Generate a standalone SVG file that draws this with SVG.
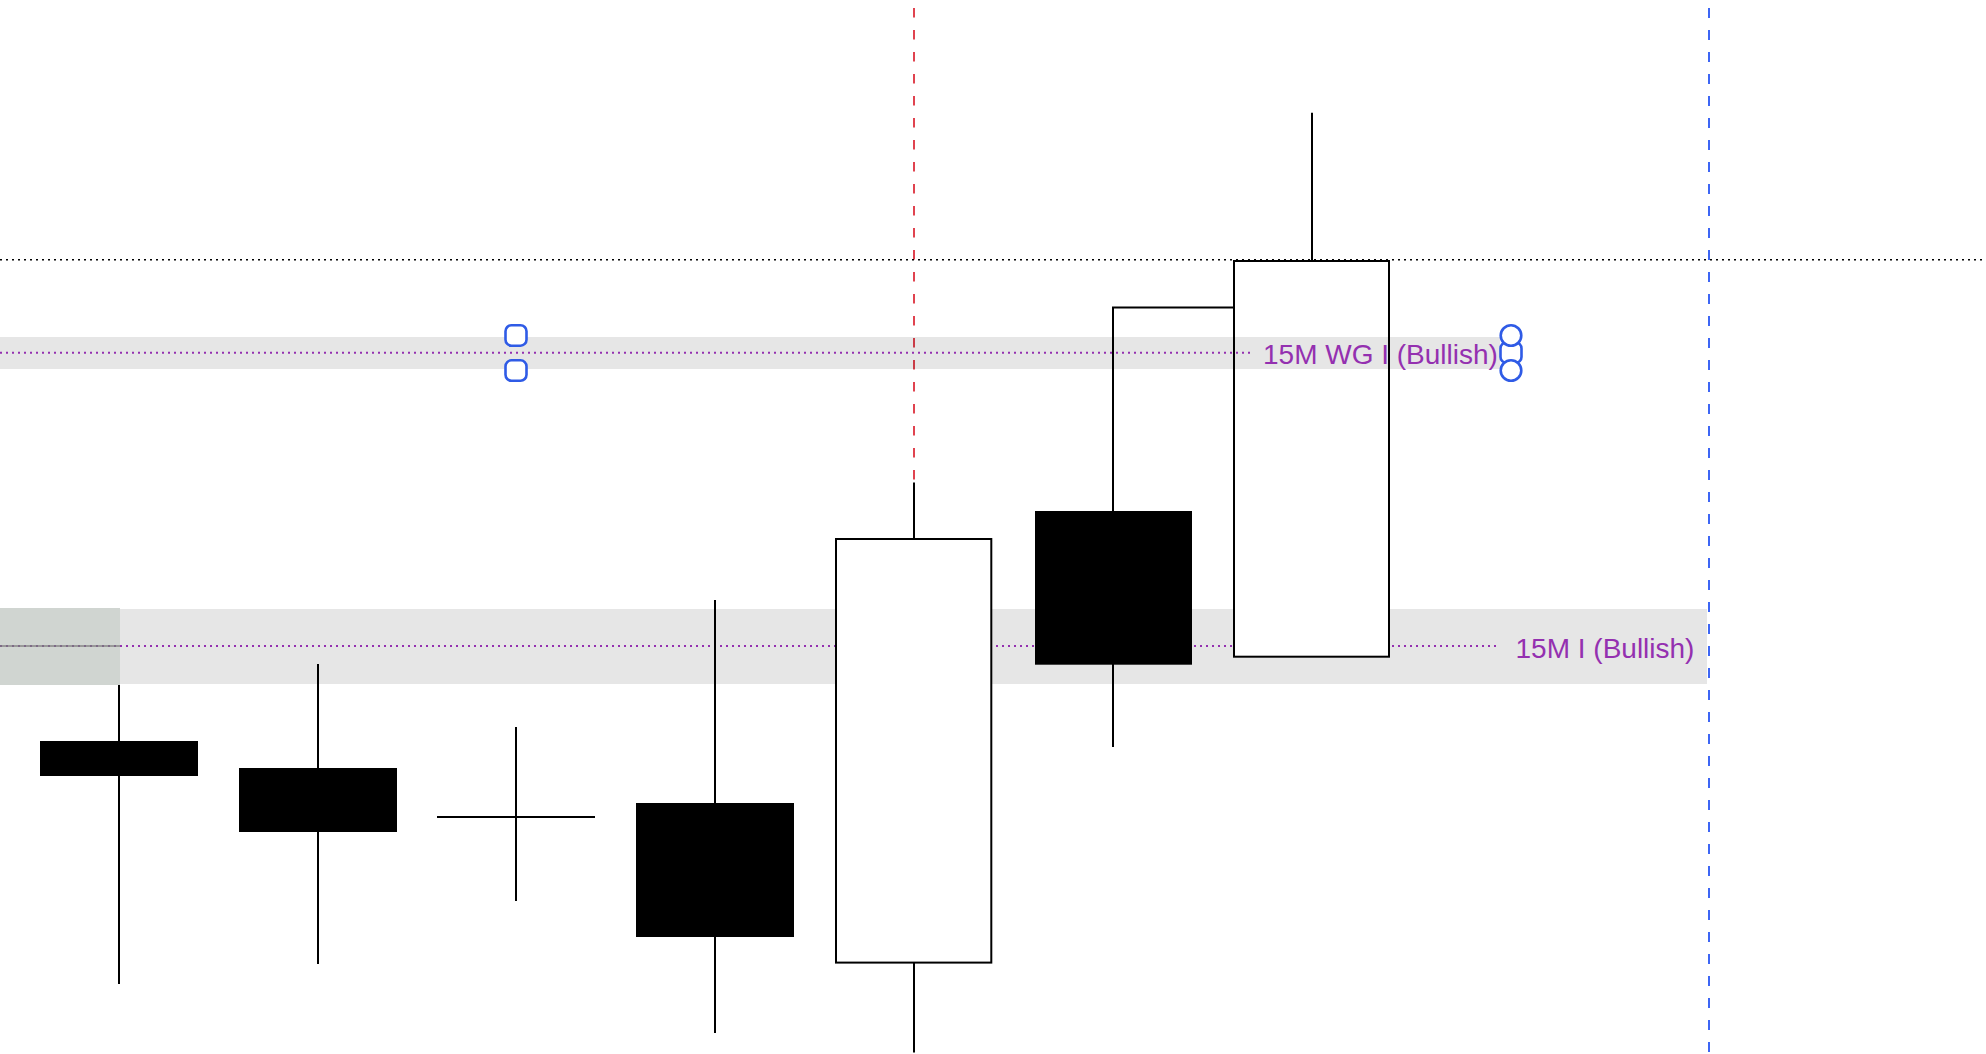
<svg xmlns="http://www.w3.org/2000/svg" width="1986" height="1054" viewBox="0 0 1986 1054">
<style>
.band{fill:#e6e6e6}
.bandT{fill:#000;fill-opacity:0.098}
.pdot{stroke:#9430b0;stroke-width:2;stroke-dasharray:2 4;fill:none}
.wick{stroke:#000;stroke-width:2;fill:none}
.bear{fill:#000}
.bull{fill:#fff;stroke:#000;stroke-width:2}
.lbl{font-family:"Liberation Sans",Arial,sans-serif;font-size:28px;fill:#9430b0}
.handle{fill:#fff;stroke:#2f5be6;stroke-width:2.6}
</style>
<rect width="1986" height="1054" fill="#fff"/>
<g id="vlines">
<line x1="914" y1="8" x2="914" y2="1054" stroke="#e0434f" stroke-width="2" stroke-dasharray="9.5 12.5"/>
<line x1="1709" y1="8" x2="1709" y2="1054" stroke="#3d66f5" stroke-width="2" stroke-dasharray="10 12"/>
</g>
<g id="zone-lower">
<rect class="band" x="0" y="609" width="1707" height="75"/>
<rect x="0" y="608" width="120" height="77" fill="#d0d5d1"/>
<line x1="0" y1="646" x2="120" y2="646" stroke="#999" stroke-width="2"/>
<line x1="0" y1="646" x2="120" y2="646" stroke="#7d6a86" stroke-width="2" stroke-dasharray="2 4"/>
<line class="pdot" x1="120" y1="646" x2="1498" y2="646"/>
</g>
<g id="level-line">
<line x1="0" y1="259.7" x2="1986" y2="259.7" stroke="#000" stroke-width="1.6" stroke-dasharray="2 4"/>
</g>
<g id="candles">
<g id="c1"><line class="wick" x1="119" y1="685" x2="119" y2="984"/><rect class="bear" x="40" y="741" width="158" height="35"/></g>
<g id="c2"><line class="wick" x1="318" y1="664" x2="318" y2="964"/><rect class="bear" x="239" y="768" width="158" height="64"/></g>
<g id="c3"><line class="wick" x1="516" y1="727" x2="516" y2="901"/><line class="wick" x1="437" y1="817" x2="595" y2="817"/></g>
<g id="c4"><line class="wick" x1="715" y1="600" x2="715" y2="1033"/><rect class="bear" x="636" y="803" width="158" height="134"/></g>
<g id="c5"><line class="wick" x1="914" y1="482.5" x2="914" y2="1052.5"/><rect class="bull" x="836" y="539" width="155.3" height="423.6"/></g>
<g id="c6"><path class="wick" d="M1113,747 V307.5 H1234"/><rect class="bear" x="1035" y="511" width="157" height="153.7"/></g>
<g id="c7"><line class="wick" x1="1312" y1="112.7" x2="1312" y2="261"/><rect class="bull" x="1234" y="261" width="155" height="395.7"/></g>
</g>
<g id="zone-upper">
<rect class="bandT" x="0" y="337" width="1500" height="32"/>
<line class="pdot" x1="0" y1="352.7" x2="1250" y2="352.7"/>
</g>
<g id="labels">
<text class="lbl" x="1263" y="364">15M WG I (Bullish)</text>
<text class="lbl" x="1515.5" y="657.7">15M I (Bullish)</text>
</g>
<g id="handles-left">
<rect class="handle" x="505.5" y="325.2" width="21" height="20.5" rx="6"/>
<rect class="handle" x="505.5" y="360.3" width="21" height="20.5" rx="6"/>
</g>
<g id="handles-right">
<rect class="handle" x="1500.5" y="342.4" width="21" height="20.5" rx="6"/>
<circle class="handle" cx="1511" cy="335.5" r="10.3"/>
<circle class="handle" cx="1511" cy="370.5" r="10.3"/>
</g>
</svg>
